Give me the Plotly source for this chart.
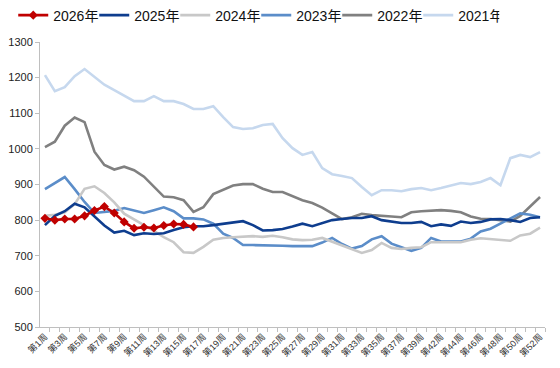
import plotly.graph_objects as go

weeks = [f"第{i}周" for i in range(1, 40)] + ["第41周"] + [f"第{i}周" for i in range(42, 53)]

y2026 = [805, 800, 803, 803, 812, 827, 838, 820, 795, 777, 780, 778, 785, 789, 788, 781]

y2025 = [786, 812, 825, 846, 836, 810, 785, 765, 770, 758, 763, 761, 763, 772, 780, 783,
         783, 786, 790, 794, 797, 786, 771, 772, 775, 782, 790, 783, 792, 800, 803, 806,
         806, 811, 800, 795, 792, 792, 795, 783, 788, 784, 796, 792, 795, 802, 803, 800,
         795, 806, 808]

y2024 = [812, 815, 822, 845, 888, 895, 876, 850, 818, 803, 786, 770, 752, 738, 710, 708,
         725, 745, 750, 752, 754, 755, 753, 756, 752, 746, 744, 745, 750, 740, 728, 718,
         708, 716, 736, 722, 719, 722, 724, 738, 737, 738, 738, 745, 749, 747, 745, 742,
         757, 762, 779]

y2023 = [887, 904, 921, 887, 851, 820, 823, 826, 834, 828, 820, 828, 836, 825, 805, 805,
         802, 790, 762, 750, 730, 730, 730, 730, 728, 727, 727, 727, 737, 750, 733, 720,
         727, 746, 755, 734, 724, 714, 722, 750, 740, 739, 740, 748, 768, 776, 790, 806,
         819, 815, 808]

y2022 = [1005, 1020, 1065, 1088, 1075, 992, 955, 942, 950, 940, 922, 895, 866, 864, 856, 823,
         836, 873, 884, 897, 901, 901, 888, 879, 879, 868, 856, 848, 835, 819, 803, 808,
         818, 814, 811, 810, 808, 822, 825, 826, 828, 826, 822, 810, 804, 803, 800, 796,
         812, 838, 865]

y2021 = [1207, 1162, 1173, 1204, 1224, 1202, 1180, 1165, 1150, 1134, 1134, 1148, 1134, 1134, 1126, 1112,
         1112, 1120, 1089, 1061, 1056, 1058, 1067, 1070, 1030, 1002, 983, 991, 946, 929, 924, 918,
         893, 870, 884, 884, 881, 887, 890, 884, 890, 896, 904, 901, 907, 918, 898, 974,
         983, 977, 991]

series = [
    ("2026年", y2026, "#C00000", True),
    ("2025年", y2025, "#0E3D8E", False),
    ("2024年", y2024, "#C8C8C8", False),
    ("2023年", y2023, "#5B8DC9", False),
    ("2022年", y2022, "#808080", False),
    ("2021年", y2021, "#C6D8EE", False),
]

xs = list(range(len(weeks)))
fig = go.Figure()
# draw in reverse so 2026 is on top, legend order kept via legendrank
for rank, (name, ys, color, mk) in reversed(list(enumerate(series))):
    fig.add_trace(go.Scatter(
        x=xs[:len(ys)], y=ys, name=name, mode="lines+markers" if mk else "lines",
        line=dict(color=color, width=2.6),
        marker=dict(symbol="diamond", size=7, color=color) if mk else None,
        legendrank=rank + 1,
    ))

font_cn = "Liberation Sans, Noto Sans CJK SC, sans-serif"
fig.update_layout(
    width=552, height=360,
    margin=dict(l=32, r=15, t=34, b=41, autoexpand=False),
    paper_bgcolor="white", plot_bgcolor="white",
    font=dict(family=font_cn, color="#222"),
    showlegend=True,
    legend=dict(orientation="h", x=-0.053, xanchor="left", y=1.149, yanchor="top",
                font=dict(size=14, family=font_cn, color="#111"),
                entrywidth=36, entrywidthmode="pixels", traceorder="normal",
                itemwidth=30, bgcolor="rgba(0,0,0,0)", tracegroupgap=0),
    xaxis=dict(range=[-0.5, len(weeks) - 0.5], tickmode="array",
               tickvals=xs[::2], ticktext=weeks[::2], tickangle=-45,
               ticks="", showgrid=False, zeroline=False,
               showline=True, linecolor="#BFBFBF", linewidth=1,
               tickfont=dict(size=9, color="#333"),
               minor=dict(ticks="outside", tickmode="array",
                          tickvals=[i + 0.5 for i in xs], ticklen=4,
                          tickcolor="#BFBFBF", showgrid=False)),
    yaxis=dict(range=[500, 1300], dtick=100, tick0=500, showgrid=False,
               zeroline=False, showline=True, linecolor="#BFBFBF", linewidth=1,
               ticks="outside", ticklen=4, tickcolor="#BFBFBF",
               tickfont=dict(size=11, color="#222")),
)

fig.write_html("out.html")
